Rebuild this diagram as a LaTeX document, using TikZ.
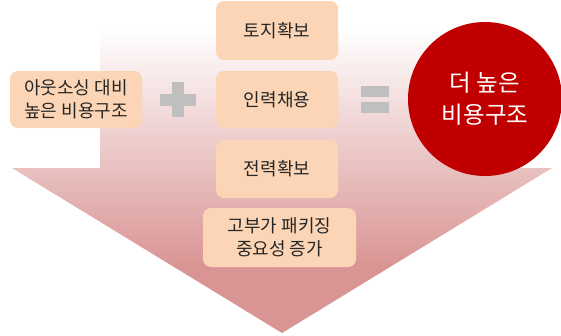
\documentclass[tikz,border=0pt]{standalone}
\usepackage{fontspec}
\setmainfont{Noto Sans CJK KR}
\definecolor{boxfill}{HTML}{FBD5B5}
\definecolor{arrowpink}{HTML}{D99594}
\definecolor{circred}{HTML}{C00000}
\definecolor{signgray}{HTML}{BFBFBF}
\definecolor{txt}{HTML}{262626}
\pgfdeclareverticalshading{arrowshade}{100bp}{color(0bp)=(arrowpink); color(36bp)=(arrowpink); color(75bp)=(white); color(100bp)=(white)}
\begin{document}
\begin{tikzpicture}[x=1pt,y=-1pt,
  box/.style={draw=none,fill=boxfill,rounded corners=8pt,inner sep=0pt,align=center,
    text=txt,font=\fontsize{18}{23}\selectfont},
  sign/.style={fill=signgray,draw=none}]
\useasboundingbox (0,0) rectangle (561,335);
% big down arrow
\shade[shading=arrowshade] (100,28) -- (464,28) -- (464,168) -- (552,168) -- (282,333)
  -- (12,168) -- (100,168) -- cycle;
% boxes
\node[box,minimum width=132pt,minimum height=57pt] (left) at (76,99.5) {아웃소싱 대비\\높은 비용구조};
\node[box,minimum width=122pt,minimum height=59pt] (land) at (277,30.5) {토지확보};
\node[box,minimum width=122pt,minimum height=57pt] (staff) at (277,99.5) {인력채용};
\node[box,minimum width=122pt,minimum height=58pt] (power) at (277,169) {전력확보};
\node[box,minimum width=153pt,minimum height=59pt] (pack) at (279.5,237.5) {고부가 패키징\\중요성 증가};
% plus sign
\fill[sign] (172,82) rectangle (184,117);
\fill[sign] (160,94) rectangle (196,106);
% equals sign
\fill[sign] (361,86) rectangle (389,97);
\fill[sign] (361,102) rectangle (389,113);
% circle
\node[circle,fill=circred,draw=none,minimum size=154pt,inner sep=0pt,align=center,
  text=white,font=\fontsize{23.5}{32}\selectfont] (result) at (485,99) {더 높은\\비용구조};
\end{tikzpicture}
\end{document}
